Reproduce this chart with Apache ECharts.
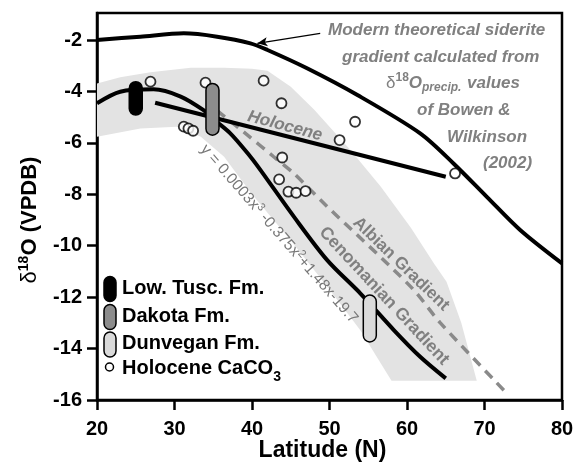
<!DOCTYPE html>
<html lang="en">
<head>
    <meta charset="UTF-8">
    <title>Siderite d18O gradients</title>
    <script src="https://cdn.jsdelivr.net/npm/echarts@6/dist/echarts.min.js"></script>
    <style>
        html, body { margin: 0; padding: 0; background: #fff; }
    </style>
</head>
<body>
<div id="main" style="width: 578px; height: 471px;"></div>
<script type="text/javascript">
    // values
    var modernLat  = [20, 25.6, 31.2, 35.5, 39.8, 42, 47.1, 53.6, 61.7, 66, 70.3, 74.6, 80];
    var modernD18O = [-2.0, -1.87, -1.74, -1.87, -2.13, -2.39, -3.10, -4.14, -5.63, -6.8, -8.1, -9.39, -10.69];

    var cenoLat  = [20, 23, 27.3, 30.8, 33.7, 34.6, 37.2, 39.8, 41.1, 45.4, 49.7, 54, 58.3, 61.7, 65];
    var cenoD18O = [-4.46, -4.01, -3.92, -4.2, -4.72, -4.98, -5.63, -6.54, -7.06, -8.87, -10.56, -11.86, -13.28, -14.32, -15.16];

    var albianLat  = [35.5, 38.9, 42.8, 45.4, 49.3, 60.5, 64.3, 72.5];
    var albianD18O = [-4.75, -5.57, -6.54, -7.19, -8.36, -11.6, -13.0, -15.62];

    var holoLineLat  = [27.5, 65];
    var holoLineD18O = [-4.44, -7.32];

    var holoPtLat  = [26.9, 34.0, 41.5, 43.8, 31.2, 31.8, 32.4, 43.9, 43.5, 44.7, 45.7, 46.9, 51.3, 53.3, 66.2];
    var holoPtD18O = [-3.62, -3.66, -3.58, -4.46, -5.37, -5.44, -5.53, -6.57, -7.42, -7.9, -7.94, -7.88, -5.89, -5.18, -7.19];

    // grey envelope, outline clockwise
    var bandLat  = [20, 23, 26.9, 32.1, 36.4, 40, 42, 45, 48, 52.7, 56.6, 60.5, 63.5, 65.1, 67, 69,
                    58, 54, 50, 45, 40, 36.4, 33.4, 30.3, 25.6, 20];
    var bandD18O = [-3.69, -3.45, -3.25, -3.08, -3.08, -3.12, -3.2, -3.82, -4.7, -6.28, -7.7, -9.3, -10.7, -11.4, -13.0, -15.25,
                    -15.25, -13.3, -11.7, -9.8, -8.0, -6.54, -5.76, -5.37, -5.44, -5.76];

    var fmNames = ['Low. Tusc. Fm.', 'Dakota Fm.', 'Dunvegan Fm.'];
    var fmLat   = [25, 34.9, 55.2];
    var fmTop   = [-3.62, -3.69, -11.92];
    var fmBot   = [-4.92, -5.70, -13.74];
    var fmFill  = ['#000000', '#8c8c8c', '#dadada'];

    var arrowTail = [48.8, -1.74];
    var arrowHead = [40.7, -2.13];

    var xTicks = [20, 30, 40, 50, 60, 70, 80];
    var yTicks = [-16, -14, -12, -10, -8, -6, -4, -2];

    var FONT = 'Liberation Sans, Arial, Helvetica, sans-serif';
    var GREY = '#808080';

    var zip = function (a, b) { return a.map(function (v, i) { return [v, b[i]]; }); };

    var myChart = echarts.init(document.getElementById('main'));

    var option = {
        animation: false,
        backgroundColor: '#fff',
        grid: {
            left: 97, right: 16, top: 13, bottom: 71,
            show: true, borderColor: '#000', borderWidth: 2.5
        },
        xAxis: {
            type: 'value', min: 20, max: 80, interval: 10,
            axisLine: { onZero: false, lineStyle: { color: '#000', width: 2.5 } },
            axisTick: { inside: false, length: 10, lineStyle: { color: '#000', width: 2.5 }, customValues: xTicks },
            axisLabel: { customValues: xTicks, margin: 19, color: '#000', fontSize: 20, fontWeight: 'bold', fontFamily: FONT },
            splitLine: { show: false }
        },
        yAxis: {
            type: 'value', min: -16, max: -0.95,
            axisLine: { onZero: false, lineStyle: { color: '#000', width: 2.5 } },
            axisTick: { inside: false, length: 10, lineStyle: { color: '#000', width: 2.5 }, customValues: yTicks },
            axisLabel: { customValues: yTicks, margin: 15, color: '#000', fontSize: 20, fontWeight: 'bold', fontFamily: FONT },
            splitLine: { show: false }
        },
        series: [
            {
                name: 'envelope',
                type: 'custom',
                z: 1,
                data: [[bandLat[0], bandD18O[0]]],
                renderItem: function (params, api) {
                    var pts = bandLat.map(function (lat, i) { return api.coord([lat, bandD18O[i]]); });
                    return { type: 'polygon', shape: { points: pts }, style: { fill: '#e3e3e3' } };
                }
            },
            {
                name: 'Albian Gradient',
                type: 'line', z: 2, smooth: 0.3, symbol: 'none',
                data: zip(albianLat, albianD18O),
                lineStyle: { color: '#8a8a8a', width: 3.5, type: [10, 7] }
            },
            {
                name: 'Modern',
                type: 'line', z: 3, smooth: 0.3, symbol: 'none',
                data: zip(modernLat, modernD18O),
                lineStyle: { color: '#000', width: 4 },
                markLine: {
                    silent: true,
                    symbol: ['none', 'arrow'],
                    symbolSize: [7, 10],
                    label: { show: false },
                    lineStyle: { color: '#000', width: 1.2, type: 'solid' },
                    data: [[{ coord: arrowTail }, { coord: arrowHead }]]
                }
            },
            {
                name: 'Cenomanian Gradient',
                type: 'line', z: 3, smooth: 0.3, symbol: 'none',
                data: zip(cenoLat, cenoD18O),
                lineStyle: { color: '#000', width: 4 }
            },
            {
                name: 'Holocene',
                type: 'line', z: 3, symbol: 'none',
                data: zip(holoLineLat, holoLineD18O),
                lineStyle: { color: '#000', width: 4 }
            },
            {
                name: 'Holocene CaCO3',
                type: 'scatter', z: 4,
                symbol: 'circle', symbolSize: 10,
                data: zip(holoPtLat, holoPtD18O),
                itemStyle: { color: '#fff', borderColor: '#000', borderWidth: 1.8 }
            },
            {
                name: 'Formations',
                type: 'custom', z: 5,
                data: fmLat.map(function (lat, i) { return [lat, fmTop[i], fmBot[i]]; }),
                renderItem: function (params, api) {
                    var t = api.coord([api.value(0), api.value(1)]);
                    var b = api.coord([api.value(0), api.value(2)]);
                    var w = 13;
                    return {
                        type: 'rect',
                        shape: { x: t[0] - w / 2, y: t[1], width: w, height: b[1] - t[1], r: w / 2 },
                        style: { fill: fmFill[params.dataIndex], stroke: '#000', lineWidth: 1.5 }
                    };
                }
            }
        ],
        graphic: []
    };

    // legend (lower left)
    var legY = [289, 317, 344.5];
    var g = option.graphic;
    fmNames.forEach(function (n, i) {
        g.push({ type: 'rect', z: 100, shape: { x: 104, y: legY[i] - 12.5, width: 12, height: 25, r: 6 },
                 style: { fill: fmFill[i], stroke: '#000', lineWidth: 1.5 } });
        g.push({ type: 'text', z: 100, x: 122, y: legY[i] - 1,
                 style: { text: n, font: 'bold 20px ' + FONT, fill: '#000', verticalAlign: 'middle' } });
    });
    g.push({ type: 'circle', z: 100, shape: { cx: 109.5, cy: 367, r: 4 },
             style: { fill: '#fff', stroke: '#000', lineWidth: 1.5 } });
    g.push({ type: 'text', z: 100, x: 122, y: 368,
             style: { text: 'Holocene CaCO{s|3}', font: 'bold 20px ' + FONT, fill: '#000', verticalAlign: 'middle',
                      rich: { s: { fontSize: 14, fontWeight: 'bold', fontFamily: FONT, verticalAlign: 'bottom', padding: [0, 0, -6, 0] } } } });

    // axis titles
    g.push({ type: 'text', z: 100, x: 322.5, y: 451,
             style: { text: 'Latitude (N)', font: 'bold 23px ' + FONT, fill: '#000', align: 'center', verticalAlign: 'middle' } });
    g.push({ type: 'text', z: 100, x: 30, y: 220, rotation: Math.PI / 2,
             style: { text: '{d|δ}{s|18}O (VPDB)', font: 'bold 22px ' + FONT, fill: '#000', align: 'center', verticalAlign: 'middle',
                      rich: { d: { fontSize: 22, fontWeight: 'normal', fontFamily: FONT, lineHeight: 25 },
                              s: { fontSize: 14, fontWeight: 'bold', fontFamily: FONT, verticalAlign: 'top', lineHeight: 25, padding: [0, 0, 8, 0] } } } });

    // annotation of the modern curve
    var note = [
        ['Modern theoretical siderite', 328, 30],
        ['gradient calculated from', 342, 57],
        ['{d|δ}{s|18}O{p|precip.} values', 386, 83],
        ['of Bowen &', 417, 110],
        ['Wilkinson', 447, 137],
        ['(2002)', 483, 163]
    ];
    note.forEach(function (n) {
        g.push({ type: 'text', z: 100, x: n[1], y: n[2],
                 style: { text: n[0], font: 'italic bold 17px ' + FONT, fill: GREY, verticalAlign: 'middle',
                          rich: { d: { fontSize: 17, fontStyle: 'normal', fontWeight: 'normal', fontFamily: FONT, lineHeight: 22 },
                                  s: { fontSize: 12, fontStyle: 'normal', fontWeight: 'bold', fontFamily: FONT, verticalAlign: 'top', lineHeight: 22, padding: [0, 0, 6, 0] },
                                  p: { fontSize: 12, fontStyle: 'italic', fontWeight: 'bold', fontFamily: FONT, verticalAlign: 'bottom', lineHeight: 22, padding: [6, 1, 0, 0] } } } });
    });

    // labels along the curves
    var deg = Math.PI / 180;
    g.push({ type: 'text', z: 100, x: 285, y: 126, rotation: -15 * deg,
             style: { text: 'Holocene', font: 'italic bold 17px ' + FONT, fill: GREY, align: 'center', verticalAlign: 'middle' } });
    g.push({ type: 'text', z: 100, x: 401, y: 264, rotation: -44 * deg,
             style: { text: 'Albian Gradient', font: 'bold 17px ' + FONT, fill: GREY, align: 'center', verticalAlign: 'middle' } });
    g.push({ type: 'text', z: 100, x: 384, y: 296, rotation: -47 * deg,
             style: { text: 'Cenomanian Gradient', font: 'bold 17.5px ' + FONT, fill: GREY, align: 'center', verticalAlign: 'middle' } });
    g.push({ type: 'text', z: 100, x: 279, y: 234, rotation: -49 * deg,
             style: { text: 'y = 0.0003x{s|3} -0.375x{s|2}+1.48x-19.7', font: '15.5px ' + FONT, fill: '#777', align: 'center', verticalAlign: 'middle',
                      rich: { s: { fontSize: 11, fontFamily: FONT, verticalAlign: 'top', lineHeight: 19, padding: [0, 0, 6, 0] } } } });

    myChart.setOption(option);
</script>
</body>
</html>
